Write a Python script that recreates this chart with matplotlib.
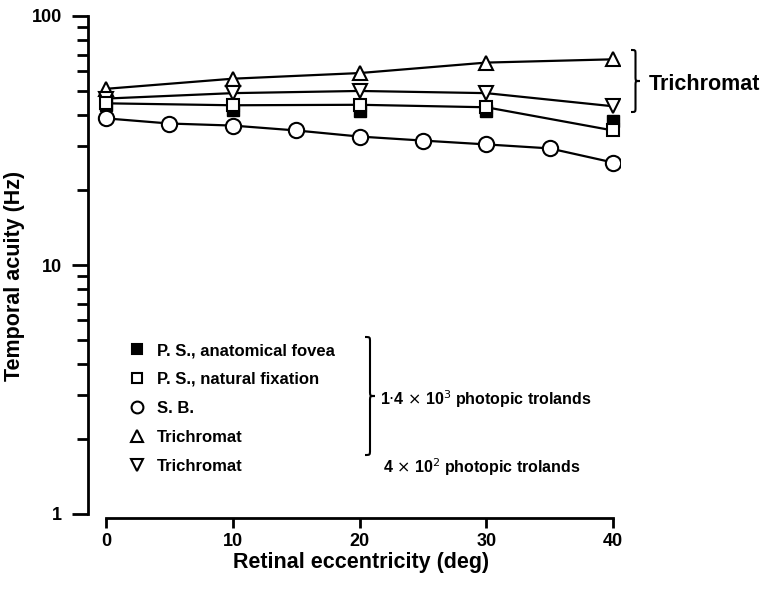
import numpy as np
import matplotlib
matplotlib.use('Agg')
import matplotlib.pyplot as plt
from matplotlib.lines import Line2D
from matplotlib.path import Path
from matplotlib.patches import PathPatch
from matplotlib.ticker import LogLocator, NullFormatter

plt.rcParams['font.family'] = ['Liberation Sans', 'DejaVu Sans']

# Datos
x_ps = [0, 10, 20, 30, 40]
ps_fovea = [44, 41.8, 41.5, 41.5, 38]
ps_natural = [44.6, 43.8, 44, 43, 34.7]
x_sb = [0, 5, 10, 15, 20, 25, 30, 35, 40]
sb = [38.8, 37, 36.3, 34.7, 32.8, 31.6, 30.5, 29.4, 25.8]
x_tri = [0, 10, 20, 30, 40]
tri_alta = [51, 56, 59, 65, 67]
tri_baja = [46.6, 49, 50, 49, 43.4]

etiquetas = ['P. S., anatomical fovea', 'P. S., natural fixation', 'S. B.',
             'Trichromat', 'Trichromat']

W, H = 765, 589
fig = plt.figure(figsize=(W/100, H/100), dpi=100)
ax = fig.add_axes([88/W, (H-514)/H, 532/W, 498/H])

estilo = dict(color='black', lw=1.6, mec='black', mew=1.5, mfc='white')
ax.plot(x_tri, tri_alta, marker='^', ms=10, **estilo)
ax.plot(x_tri, tri_baja, marker='v', ms=10, **estilo)
ax.plot(x_ps, ps_fovea, marker='s', ms=9, ls='none', mec='black', mfc='black')
ax.plot(x_ps, ps_natural, marker='s', ms=9, **estilo)
ax.plot(x_sb, sb, marker='o', ms=11, **estilo)

ax.set_yscale('log')
ax.set_ylim(1, 100)
ax.set_xlim(-1.42, 40.55)
ax.set_yticks([1, 10, 100])
ax.set_yticklabels(['1', '10', '100'])
ax.yaxis.set_minor_locator(LogLocator(base=10, subs=np.arange(2, 10)))
ax.yaxis.set_minor_formatter(NullFormatter())
ax.set_xticks([0, 10, 20, 30, 40])

for s in ['top', 'right']:
    ax.spines[s].set_visible(False)
ax.spines['left'].set_linewidth(2)
ax.spines['bottom'].set_linewidth(2)
ax.spines['bottom'].set_position(('outward', 3))
ax.spines['bottom'].set_bounds(0, 40)

ax.tick_params(axis='y', which='major', length=11.5, width=2, labelsize=13, pad=7)
ax.tick_params(axis='y', which='minor', length=8, width=2)
ax.tick_params(axis='x', which='major', length=7, width=2, labelsize=13, pad=4)
for t in ax.get_xticklabels() + ax.get_yticklabels():
    t.set_fontweight('bold')

ax.set_xlabel('Retinal eccentricity (deg)', fontsize=15.5, fontweight='bold')
ax.set_ylabel('Temporal acuity (Hz)', fontsize=15.5, fontweight='bold')
ax.xaxis.set_label_coords((361-88)/532, -(552-514)/498)
ax.yaxis.set_label_coords(-(88-25)/532, (514-276)/498)

# Leyenda
mk = dict(ls='none', mec='black', mew=1.5)
handles = [Line2D([], [], marker='s', ms=7.5, mfc='black', **mk),
           Line2D([], [], marker='s', ms=7.5, mfc='white', **mk),
           Line2D([], [], marker='o', ms=8.5, mfc='white', **mk),
           Line2D([], [], marker='^', ms=8.5, mfc='white', **mk),
           Line2D([], [], marker='v', ms=8.5, mfc='white', **mk)]
leg = ax.legend(handles, etiquetas, loc='upper left', bbox_to_anchor=(130/W, 1 - 343/H),
                bbox_transform=fig.transFigure, frameon=False, prop={'size': 12, 'weight': 'bold'},
                handlelength=0.8, handletextpad=0.8, labelspacing=0.84, borderpad=0, borderaxespad=0)


def llave(x0, y0, y1, w):
    # llave "}" en pixeles (y desde arriba)
    ym = (y0 + y1) / 2
    r = w / 2
    verts = [(x0, y0), (x0 + r, y0), (x0 + r, y0), (x0 + r, y0 + r),
             (x0 + r, ym - r),
             (x0 + r, ym), (x0 + r, ym), (x0 + w, ym),
             (x0 + r, ym), (x0 + r, ym), (x0 + r, ym + r),
             (x0 + r, y1 - r),
             (x0 + r, y1), (x0 + r, y1), (x0, y1)]
    codes = [Path.MOVETO, Path.CURVE4, Path.CURVE4, Path.CURVE4,
             Path.LINETO,
             Path.CURVE4, Path.CURVE4, Path.CURVE4,
             Path.CURVE4, Path.CURVE4, Path.CURVE4,
             Path.LINETO,
             Path.CURVE4, Path.CURVE4, Path.CURVE4]
    verts = [(vx / W, 1 - vy / H) for vx, vy in verts]
    fig.add_artist(PathPatch(Path(verts, codes), transform=fig.transFigure,
                             fill=False, lw=1.5, color='black'))


llave(631, 50, 112, 9)
llave(365, 337, 455, 10)

fig.text(649/W, 1 - 84/H, 'Trichromat', fontsize=15.5, fontweight='bold', va='center', ha='left')
fig.text(380/W, 1 - 399/H, r'1$\cdot$4 $\times$ 10$^3$ photopic trolands',
         fontsize=11.5, fontweight='bold', va='center', ha='left')
fig.text(383/W, 1 - 467/H, r'4 $\times$ 10$^2$ photopic trolands',
         fontsize=11.5, fontweight='bold', va='center', ha='left')

fig.savefig('out.png', dpi=100)
